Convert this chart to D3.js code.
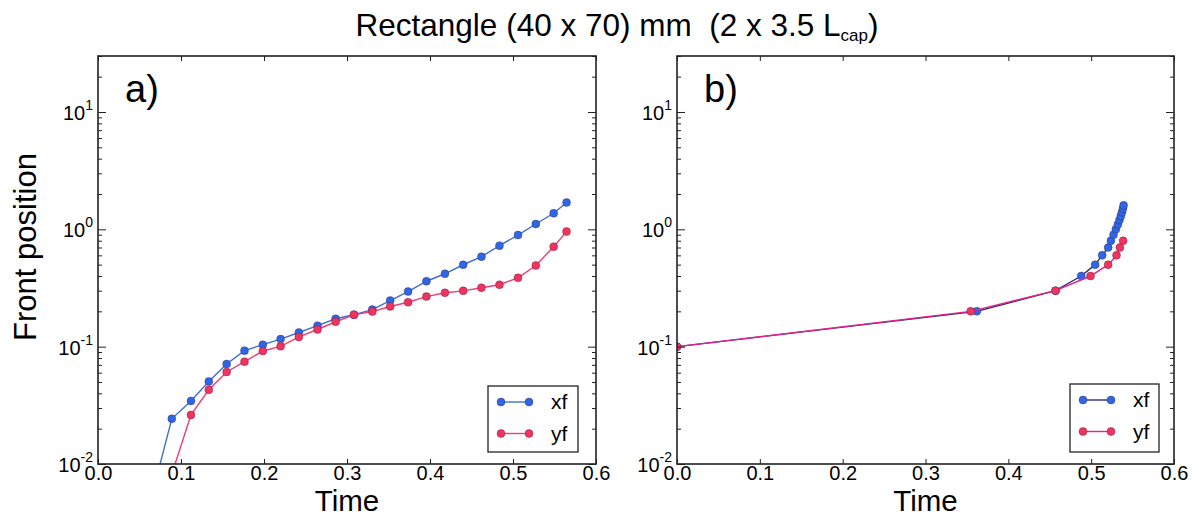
<!DOCTYPE html>
<html>
<head>
<meta charset="utf-8">
<script src="https://cdn.jsdelivr.net/npm/d3@7"></script>
<style>
  html, body { margin: 0; padding: 0; background: #fff; }
  svg { display: block; }
  text { font-family: "Liberation Sans", Arial, sans-serif; fill: #000; white-space: pre; }
</style>
</head>
<body>
<svg id="chart" width="1199" height="518"></svg>
<script>
// ---------------- data ----------------
const titleMain = "Rectangle (40 x 70) mm  (2 x 3.5 L";
const titleSub = "cap";
const xTickValues = [0.0, 0.1, 0.2, 0.3, 0.4, 0.5, 0.6];
const yMajorExps = [-2, -1, 0, 1];
const seriesNames = ["xf", "yf"];
const panelLabels = ["a)", "b)"];

// panel a: sampled in time
const timeA = [0.0667, 0.0889, 0.112, 0.1335, 0.155, 0.1765, 0.1986, 0.22, 0.242, 0.2645, 0.2863, 0.3084,
               0.3305, 0.352, 0.3736, 0.3957, 0.418, 0.44, 0.462, 0.4837, 0.506, 0.5275, 0.549, 0.5645];
const xfA = [0.006, 0.0243, 0.0345, 0.0505, 0.0711, 0.0925, 0.104, 0.116, 0.132, 0.151, 0.173, 0.187,
             0.207, 0.247, 0.295, 0.361, 0.418, 0.499, 0.585, 0.726, 0.894, 1.11, 1.37, 1.69];
const yfA = [null, 0.0082, 0.0262, 0.0429, 0.0608, 0.0745, 0.0918, 0.1007, 0.121, 0.140, 0.163, 0.187,
             0.199, 0.220, 0.239, 0.267, 0.288, 0.299, 0.318, 0.337, 0.386, 0.492, 0.711, 0.956];

// panel b: sampled in position
const timeXfB = [0, 0.362, 0.457, 0.488, 0.5048, 0.5133, 0.5205, 0.5238, 0.527, 0.5298, 0.5322, 0.5342,
                 0.5358, 0.5372, 0.5383, 0.5392];
const xfB = [0.1, 0.2, 0.3, 0.4, 0.5, 0.6, 0.7, 0.8, 0.9, 1.0, 1.1, 1.2, 1.3, 1.4, 1.5, 1.6];
const timeYfB = [0, 0.3546, 0.457, 0.4992, 0.5205, 0.5306, 0.5347, 0.5386];
const yfB = [0.1, 0.2, 0.3, 0.4, 0.5, 0.6, 0.7, 0.8];

// ---------------- layout / style ----------------
const svg = d3.select("#chart");
const plotTop = 56, plotBottom = 464;
const panels = [
  { left: 98, right: 596, label: panelLabels[0],
    series: [
      { name: seriesNames[0], t: timeA, v: xfA, line: "#3f6fd6", marker: "#2e66e8" },
      { name: seriesNames[1], t: timeA, v: yfA, line: "#ee3f78", marker: "#f0335f" }
    ],
    legend: { x: 488, y: 386, w: 90, h: 66 } },
  { left: 677, right: 1174, label: panelLabels[1],
    series: [
      { name: seriesNames[0], t: timeXfB, v: xfB, line: "#27306e", marker: "#2e66e8" },
      { name: seriesNames[1], t: timeYfB, v: yfB, line: "#e5228c", marker: "#f0335f" }
    ],
    legend: { x: 1070, y: 384, w: 89, h: 68 } }
];

const y = d3.scaleLog().domain([0.01, 30]).range([plotBottom, plotTop]);
const minorVals = [];
for (let e = -2; e <= 1; e++) for (let m = 2; m <= 9; m++) { const v = m * Math.pow(10, e); if (v <= 30) minorVals.push(v); }
const majorVals = yMajorExps.map(e => Math.pow(10, e));

// title
const title = svg.append("text").attr("x", 617).attr("y", 36).attr("text-anchor", "middle")
  .attr("xml:space", "preserve").style("font-size", "31.5px");
title.append("tspan").text(titleMain);
title.append("tspan").attr("dy", 5).style("font-size", "17px").text(titleSub);
title.append("tspan").attr("dy", -5).text(")");

// y-axis label
svg.append("text").attr("transform", "translate(36,247) rotate(-90)").attr("text-anchor", "middle")
  .style("font-size", "31px").text("Front position");

panels.forEach((p, pi) => {
  const x = d3.scaleLinear().domain([0, 0.6]).range([p.left, p.right]);
  const g = svg.append("g");
  const clipId = "clip" + pi;
  svg.append("clipPath").attr("id", clipId).append("rect")
    .attr("x", p.left).attr("y", plotTop).attr("width", p.right - p.left).attr("height", plotBottom - plotTop);

  // data
  const plot = g.append("g").attr("clip-path", `url(#${clipId})`);
  p.series.forEach(s => {
    const pts = s.t.map((t, i) => ({ t, v: s.v[i] })).filter(d => d.v != null);
    const line = d3.line().x(d => x(d.t)).y(d => y(d.v));
    plot.append("path").attr("d", line(pts)).attr("fill", "none")
      .attr("stroke", s.line).attr("stroke-width", 1.4);
    plot.selectAll(null).data(pts).enter().append("circle")
      .attr("cx", d => x(d.t)).attr("cy", d => y(d.v)).attr("r", 4)
      .attr("fill", s.marker).attr("stroke", "rgba(60,20,40,0.55)").attr("stroke-width", 0.6);
  });

  // axes (ticks inward)
  const axStyle = sel => { sel.select(".domain").remove(); sel.selectAll("line").attr("stroke", "#222").attr("stroke-width", 1); };
  const xb = g.append("g").attr("transform", `translate(0,${plotBottom})`)
    .call(d3.axisBottom(x).tickValues(xTickValues).tickSize(-5).tickPadding(2).tickFormat(d3.format(".1f")));
  xb.call(axStyle);
  xb.selectAll("text").style("font-size", "20px").style("font-family", "'Liberation Sans', Arial, sans-serif").attr("fill", "#000");
  const xt = g.append("g").attr("transform", `translate(0,${plotTop})`)
    .call(d3.axisTop(x).tickValues(xTickValues).tickSize(-5).tickFormat(""));
  xt.call(axStyle);

  const yl = g.append("g").attr("transform", `translate(${p.left},0)`)
    .call(d3.axisLeft(y).tickValues(majorVals).tickSize(-8).tickFormat(""));
  yl.call(axStyle);
  const ylm = g.append("g").attr("transform", `translate(${p.left},0)`)
    .call(d3.axisLeft(y).tickValues(minorVals).tickSize(-4).tickFormat(""));
  ylm.call(axStyle);
  const yr = g.append("g").attr("transform", `translate(${p.right},0)`)
    .call(d3.axisRight(y).tickValues(majorVals).tickSize(-8).tickFormat(""));
  yr.call(axStyle);
  const yrm = g.append("g").attr("transform", `translate(${p.right},0)`)
    .call(d3.axisRight(y).tickValues(minorVals).tickSize(-4).tickFormat(""));
  yrm.call(axStyle);

  // y tick labels 10^e
  yMajorExps.forEach(e => {
    const ty = y(Math.pow(10, e));
    const t = g.append("text").attr("x", p.left - 5).attr("y", ty + 8).attr("text-anchor", "end")
      .style("font-size", "20px");
    t.append("tspan").text("10");
    t.append("tspan").attr("dy", -10).style("font-size", "14px").text(e);
  });

  // frame
  g.append("rect").attr("x", p.left).attr("y", plotTop).attr("width", p.right - p.left).attr("height", plotBottom - plotTop)
    .attr("fill", "none").attr("stroke", "#222").attr("stroke-width", 1.6);

  // panel label
  g.append("text").attr("x", p.left + 27).attr("y", 102).style("font-size", "38px").text(p.label);

  // x label
  g.append("text").attr("x", (p.left + p.right) / 2).attr("y", 511).attr("text-anchor", "middle")
    .style("font-size", "29.5px").text("Time");

  // legend
  const L = p.legend;
  const lg = g.append("g");
  lg.append("rect").attr("x", L.x).attr("y", L.y).attr("width", L.w).attr("height", L.h)
    .attr("fill", "#fff").attr("stroke", "#222").attr("stroke-width", 1.3);
  p.series.forEach((s, i) => {
    const ry = L.y + 16 + i * 31.5;
    const x1 = L.x + 13, x2 = L.x + 41;
    lg.append("line").attr("x1", x1).attr("x2", x2).attr("y1", ry).attr("y2", ry)
      .attr("stroke", s.line).attr("stroke-width", 1.4);
    [x1, x2].forEach(cx => lg.append("circle").attr("cx", cx).attr("cy", ry).attr("r", 4)
      .attr("fill", s.marker).attr("stroke", "rgba(60,20,40,0.55)").attr("stroke-width", 0.6));
    lg.append("text").attr("x", L.x + 63).attr("y", ry + 7).style("font-size", "21px").text(s.name);
  });
});
</script>
</body>
</html>
